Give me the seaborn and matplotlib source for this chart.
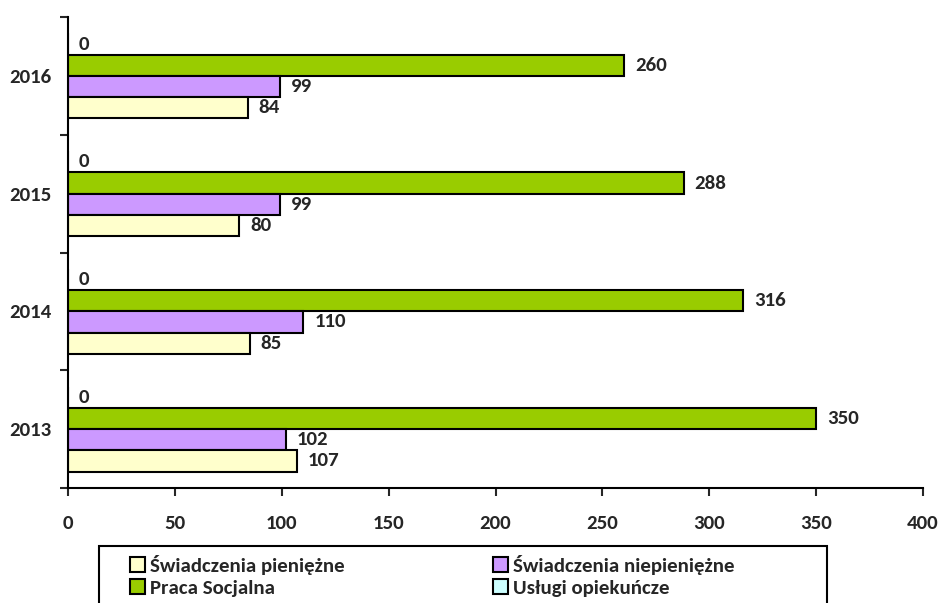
import matplotlib
matplotlib.use("Agg")
import matplotlib.pyplot as plt
import matplotlib.patches as mpatches
import seaborn as sns
import pandas as pd

years = ["2016", "2015", "2014", "2013"]
series = ["Usługi opiekuńcze", "Praca Socjalna", "Świadczenia niepieniężne", "Świadczenia pieniężne"]
uslugi = [0, 0, 0, 0]
praca = [260, 288, 316, 350]
niepieniezne = [99, 99, 110, 102]
pieniezne = [84, 80, 85, 107]
colors = {"Usługi opiekuńcze": "#CCFFFF", "Praca Socjalna": "#99CC00",
          "Świadczenia niepieniężne": "#CC99FF", "Świadczenia pieniężne": "#FFFFCC"}
x_ticks = [0, 50, 100, 150, 200, 250, 300, 350, 400]

sns.set_style("white")
plt.rcParams["font.family"] = ["Carlito", "DejaVu Sans"]
plt.rcParams["font.weight"] = "bold"
FS = 15

rows = []
for name, vals in zip(series, [uslugi, praca, niepieniezne, pieniezne]):
    for y, v in zip(years, vals):
        rows.append({"year": y, "series": name, "value": v})
df = pd.DataFrame(rows)

W, H = 939, 603
fig = plt.figure(figsize=(W/100, H/100), dpi=100)
ax = fig.add_axes([68/W, 1-488/H, (923-68)/W, (488-17)/H])
sns.barplot(data=df, y="year", x="value", hue="series", order=years, hue_order=series,
            palette=colors, saturation=1, orient="h", width=0.72, edgecolor="black",
            linewidth=1.5, legend=False, ax=ax, errorbar=None)

for c in ax.containers:
    ax.bar_label(c, padding=8, fontsize=FS, fontweight="bold")

ax.set_xlim(0, 400)
ax.set_ylim(3.5, -0.5)
ax.set_xticks(x_ticks)
ax.set_xticklabels([str(t) for t in x_ticks], fontsize=FS, fontweight="bold")
ax.set_yticks([-0.5, 0.5, 1.5, 2.5, 3.5])
ax.set_yticklabels([])
ax.set_yticks(range(len(years)), minor=True)
ax.set_yticklabels(years, minor=True, fontsize=FS, fontweight="bold")
ax.tick_params(axis="y", which="major", length=6, width=1.5, direction="out", left=True)
ax.tick_params(axis="y", which="minor", length=0, pad=11.5)
ax.tick_params(axis="x", length=6, width=1.5, direction="out", bottom=True, pad=13.5)
ax.set_xlabel("")
ax.set_ylabel("")
for s in ["top", "right"]:
    ax.spines[s].set_visible(False)
for s in ["left", "bottom"]:
    ax.spines[s].set_color("black")
    ax.spines[s].set_linewidth(1.5)

# legend frame (extends past the bottom edge as in the reference)
frame = mpatches.Rectangle((99/W, -0.05), (827-99)/W, (1-546/H) + 0.05, transform=fig.transFigure,
                           facecolor="white", edgecolor="black", linewidth=1.5)
fig.add_artist(frame)

def make_legend(names, x_px):
    handles = [mpatches.Patch(facecolor=colors[n], edgecolor="black", linewidth=1.5, label=n) for n in names]
    return fig.legend(handles=handles, loc="upper left", bbox_to_anchor=(x_px/W, 1-555/H),
                      frameon=False, prop={"size": FS, "weight": "bold"},
                      handlelength=0.72, handleheight=0.75, handletextpad=0.25,
                      labelspacing=0.2, borderpad=0, borderaxespad=0)

make_legend(["Świadczenia pieniężne", "Praca Socjalna"], 130)
make_legend(["Świadczenia niepieniężne", "Usługi opiekuńcze"], 493)

fig.savefig("out.png", dpi=100)
